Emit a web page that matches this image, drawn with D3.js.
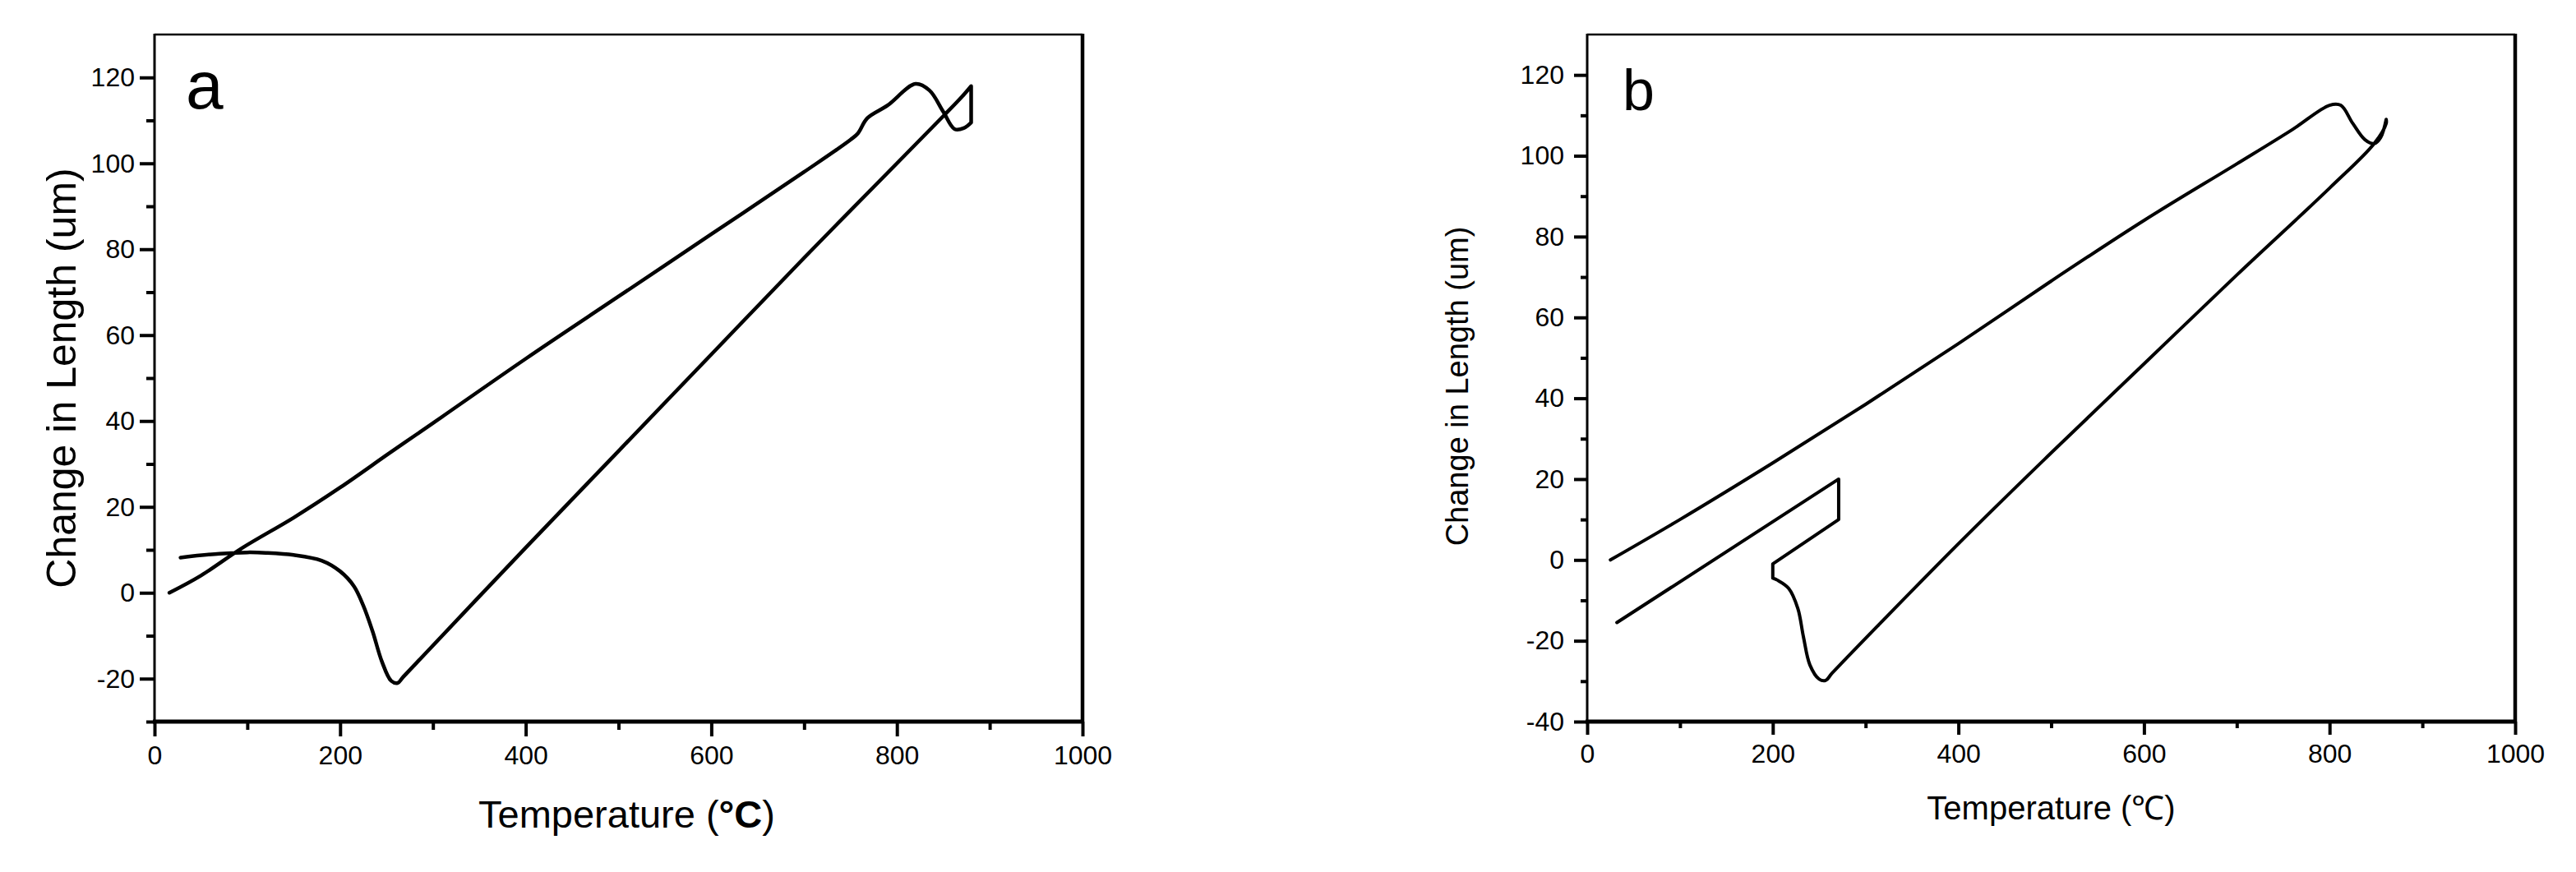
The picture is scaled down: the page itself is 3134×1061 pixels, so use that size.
<!DOCTYPE html>
<html>
<head>
<meta charset="utf-8">
<script src="https://cdn.jsdelivr.net/npm/d3@7"></script>
<style>
  html, body { margin: 0; padding: 0; background: #fff; }
  svg { display: block; }
  text { font-family: "Liberation Sans", Arial, sans-serif; fill: #000; }
</style>
</head>
<body>
<svg id="chart" width="3134" height="1061"></svg>
<script>
// ---------- Data ----------
const xTicksMajor = [0, 200, 400, 600, 800, 1000];
const xTicksMinor = [100, 300, 500, 700, 900];

const yTicksMajorA = [-20, 0, 20, 40, 60, 80, 100, 120];
const yTicksMinorA = [-30, -10, 10, 30, 50, 70, 90, 110];
const yTicksMajorB = [-40, -20, 0, 20, 40, 60, 80, 100, 120];
const yTicksMinorB = [-30, -10, 10, 30, 50, 70, 90, 110];

// Panel a: one continuous trace (heating then cooling); repeated points mark sharp corners
const tempA = [16, 50, 95, 150, 200, 253, 300, 400, 500, 600, 700, 750, 758, 768, 790, 820, 835, 850, 862, 872, 880, 880,
               880, 880, 870, 850, 800, 700, 600, 500, 400, 268, 262, 255, 245, 235, 225, 215, 200, 180, 150, 120, 100, 70, 40, 28];
const lenA  = [0, 4, 10.5, 17.5, 24.5, 32.5, 39.5, 54.5, 69, 83.5, 98, 105.5, 107, 110.5, 113.5, 118.5, 117, 112, 108, 108.2, 109.5, 109.5,
               118, 118, 115.5, 111, 100, 78, 55.5, 33, 10.5, -19.6, -21, -20.5, -16, -9, -3, 1.5, 5, 7.5, 8.8, 9.3, 9.4, 9.1, 8.5, 8.2];

// Panel b: one continuous trace; repeated points mark sharp corners
const tempB = [25, 100, 200, 300, 400, 500, 600, 700, 760, 800, 812, 825, 838, 848, 855, 861, 861,
               861, 848, 800, 700, 600, 500, 400, 264, 257, 250, 240, 233, 227, 217, 205, 200, 200,
               200, 200, 271, 271, 271, 271, 32];
const lenB  = [0, 10, 24, 38.5, 53.5, 69, 84, 98, 106.5, 112.5, 112.5, 108, 104, 103, 104.5, 109, 109,
               108, 103, 92, 70.5, 48.5, 26.5, 4, -28, -29.8, -29.5, -26, -19, -12, -7, -5, -4.5, -4.5,
               -1, -1, 10, 10, 20, 20, -15.5];

// ---------- Drawing ----------
const svg = d3.select("#chart");

function panel(cfg) {
  const x = d3.scaleLinear().domain([0, 1000]).range([cfg.x0, cfg.x1]);
  const y = d3.scaleLinear().domain(cfg.yDomain).range([cfg.y1, cfg.y0]);
  const g = svg.append("g");

  // minor ticks
  g.append("g").attr("transform", `translate(0,${cfg.y1})`)
    .call(d3.axisBottom(x).tickValues(xTicksMinor).tickSize(cfg.minorLen).tickFormat(""))
    .call(s => s.select(".domain").remove())
    .call(s => s.selectAll("line").attr("stroke", "#000").attr("stroke-width", 4));
  g.append("g").attr("transform", `translate(${cfg.x0},0)`)
    .call(d3.axisLeft(y).tickValues(cfg.yMinor).tickSize(cfg.minorLen).tickFormat(""))
    .call(s => s.select(".domain").remove())
    .call(s => s.selectAll("line").attr("stroke", "#000").attr("stroke-width", 4));

  // major ticks
  g.append("g").attr("transform", `translate(0,${cfg.y1})`)
    .call(d3.axisBottom(x).tickValues(xTicksMajor).tickSize(cfg.majorLen).tickPadding(11).tickFormat(d => String(d)))
    .call(s => s.select(".domain").remove())
    .call(s => s.selectAll("line").attr("stroke", "#000").attr("stroke-width", 4))
    .call(s => s.selectAll("text").attr("font-size", cfg.tickFont).attr("font-family", "Liberation Sans, Arial, sans-serif").attr("fill", "#000"));
  g.append("g").attr("transform", `translate(${cfg.x0},0)`)
    .call(d3.axisLeft(y).tickValues(cfg.yMajor).tickSize(cfg.majorLen).tickPadding(cfg.yPad).tickFormat(d => String(d)))
    .call(s => s.select(".domain").remove())
    .call(s => s.selectAll("line").attr("stroke", "#000").attr("stroke-width", 4))
    .call(s => s.selectAll("text").attr("font-size", cfg.tickFont).attr("font-family", "Liberation Sans, Arial, sans-serif").attr("fill", "#000"));

  // frame
  g.append("line").attr("x1", cfg.x0).attr("x2", cfg.x1).attr("y1", cfg.y0).attr("y2", cfg.y0)
    .attr("stroke", "#000").attr("stroke-width", 2.5);
  g.append("line").attr("x1", cfg.x1).attr("x2", cfg.x1).attr("y1", cfg.y0 - 1).attr("y2", cfg.y1)
    .attr("stroke", "#000").attr("stroke-width", 4.5);
  g.append("line").attr("x1", cfg.x0).attr("x2", cfg.x0).attr("y1", cfg.y0 - 1).attr("y2", cfg.y1 + 2)
    .attr("stroke", "#000").attr("stroke-width", 3);
  g.append("line").attr("x1", cfg.x0 - 2).attr("x2", cfg.x1 + 2).attr("y1", cfg.y1).attr("y2", cfg.y1)
    .attr("stroke", "#000").attr("stroke-width", 5);

  // curve
  const pts = cfg.temps.map((t, i) => [t, cfg.lens[i]]);
  const line = d3.line().x(d => x(d[0])).y(d => y(d[1])).curve(d3.curveCatmullRom.alpha(0.5));
  g.append("path").attr("d", line(pts)).attr("fill", "none").attr("stroke", "#000")
    .attr("stroke-width", cfg.lineW).attr("stroke-linejoin", "round").attr("stroke-linecap", "round");

  // panel letter
  g.append("text").attr("x", cfg.letterX).attr("y", cfg.letterY).attr("font-size", cfg.letterFont).text(cfg.letter);

  // axis titles
  const xt = g.append("text").attr("x", (cfg.x0 + cfg.x1) / 2 + cfg.xTitleDx).attr("y", cfg.xTitleY)
    .attr("text-anchor", "middle").attr("font-size", cfg.xTitleFont);
  xt.append("tspan").text("Temperature (");
  xt.append("tspan").attr("font-weight", cfg.boldC ? "bold" : "normal").text(cfg.degText);
  xt.append("tspan").text(")");

  g.append("text").attr("transform", `translate(${cfg.yTitleX},${cfg.yTitleY}) rotate(-90)`)
    .attr("text-anchor", "middle").attr("font-size", cfg.yTitleFont).text("Change in Length (um)");
}

panel({
  x0: 188, x1: 1317, y0: 42, y1: 878, yDomain: [-30, 130],
  yMajor: yTicksMajorA, yMinor: yTicksMinorA,
  majorLen: 18, minorLen: 10, yPad: 6, tickFont: 32,
  temps: tempA, lens: lenA, lineW: 4.5,
  letter: "a", letterX: 226, letterY: 132, letterFont: 82,
  xTitleDx: 10, xTitleY: 1007, xTitleFont: 47, degText: "°C", boldC: true,
  yTitleX: 92, yTitleY: 460, yTitleFont: 50
});

panel({
  x0: 1931, x1: 3060, y0: 42, y1: 878, yDomain: [-40, 130],
  yMajor: yTicksMajorB, yMinor: yTicksMinorB,
  majorLen: 16, minorLen: 8, yPad: 12, tickFont: 32,
  temps: tempB, lens: lenB, lineW: 4,
  letter: "b", letterX: 1974, letterY: 134, letterFont: 70,
  xTitleDx: 0, xTitleY: 997, xTitleFont: 40, degText: "℃", boldC: false,
  yTitleX: 1786, yTitleY: 470, yTitleFont: 38
});
</script>
</body>
</html>
